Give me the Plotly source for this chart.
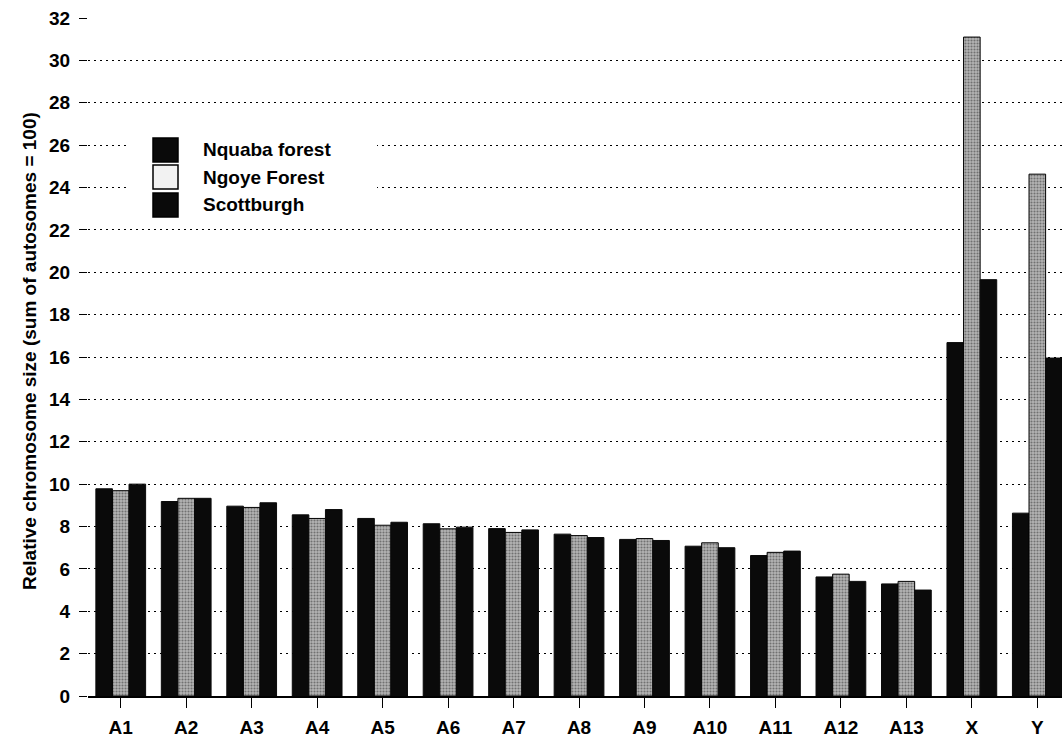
import plotly.graph_objects as go

# Relative chromosome sizes (sum of autosomes = 100)
chromosomes = ["A1", "A2", "A3", "A4", "A5", "A6", "A7", "A8", "A9", "A10",
               "A11", "A12", "A13", "X", "Y"]
series_names = ["Nquaba forest", "Ngoye Forest", "Scottburgh"]
nquaba = [9.78, 9.18, 8.96, 8.55, 8.38, 8.13, 7.90, 7.64, 7.39, 7.07,
          6.63, 5.62, 5.29, 16.68, 8.63]
ngoye = [9.69, 9.33, 8.90, 8.38, 8.06, 7.89, 7.72, 7.57, 7.43, 7.23,
         6.78, 5.75, 5.41, 31.10, 24.63]
scottburgh = [10.00, 9.33, 9.12, 8.80, 8.20, 7.97, 7.84, 7.48, 7.34, 7.00,
              6.84, 5.41, 5.00, 19.65, 15.95]
y_ticks = list(range(0, 33, 2))

W, H = 1062, 744
M_L, M_R, M_T, M_B = 88, 0, 18, 48
PW, PH = W - M_L - M_R, H - M_T - M_B

FONT = "Liberation Sans, Arial, sans-serif"
FS = 19
DARK = "#0a0a0a"
SPECKLE_BG = "#b4b4b4"
SPECKLE_FG = "#2e2e2e"


def px_x(x):
    return (x - M_L) / PW


def px_y(y):
    return (H - M_B - y) / PH


bold = dict(family=FONT, size=FS, color="black", weight="bold")

fig = go.Figure()

fig.add_trace(go.Bar(
    name=series_names[0], x=chromosomes, y=nquaba,
    marker=dict(color=DARK, line=dict(color=DARK, width=1)),
))
fig.add_trace(go.Bar(
    name=series_names[1], x=chromosomes, y=ngoye,
    marker=dict(color=SPECKLE_BG, line=dict(color="black", width=1),
                pattern=dict(shape=".", fgcolor=SPECKLE_FG, bgcolor=SPECKLE_BG,
                             size=3, solidity=0.4)),
))
fig.add_trace(go.Bar(
    name=series_names[2], x=chromosomes, y=scottburgh,
    marker=dict(color=DARK, line=dict(color=DARK, width=1)),
))

# Legend box drawn over the dotted grid
shapes = [dict(type="rect", xref="paper", yref="paper",
               x0=px_x(128), x1=px_x(377), y0=px_y(222), y1=px_y(134),
               fillcolor="white", line=dict(width=0), layer="above")]
annotations = []
swatch_fill = [DARK, "#f2f2f2", DARK]
row_y = [150, 177, 205]
for name, fill, cy in zip(series_names, swatch_fill, row_y):
    shapes.append(dict(type="rect", xref="paper", yref="paper",
                       x0=px_x(153), x1=px_x(178), y0=px_y(cy + 12), y1=px_y(cy - 12),
                       fillcolor=fill, line=dict(color="black", width=1.5), layer="above"))
    annotations.append(dict(text=name, xref="paper", yref="paper",
                            x=px_x(201), y=px_y(cy), xanchor="left", yanchor="middle",
                            showarrow=False, font=bold))

annotations.append(dict(text="Relative chromosome size (sum of autosomes = 100)",
                        xref="paper", yref="paper", x=px_x(29), y=px_y(351),
                        xanchor="center", yanchor="middle", textangle=-90,
                        showarrow=False, font=bold))

fig.update_layout(
    width=W, height=H,
    margin=dict(l=M_L, r=M_R, t=M_T, b=M_B, pad=0),
    paper_bgcolor="white", plot_bgcolor="white",
    barmode="group", bargap=0.24, bargroupgap=0,
    showlegend=False,
    shapes=shapes, annotations=annotations,
    font=dict(family=FONT, color="black"),
)

fig.update_xaxes(
    range=[-0.5, 14.377], showgrid=False, zeroline=False,
    showline=True, linecolor="black", linewidth=1.5,
    ticks="outside", ticklen=10, tickwidth=1, tickcolor="black",
    tickfont=bold, ticklabelstandoff=3,
)
fig.update_yaxes(
    range=[0, 32], tickvals=y_ticks, ticktext=[str(v) for v in y_ticks],
    showgrid=True, gridcolor="black", gridwidth=1, griddash="2px,4px",
    zeroline=False, showline=False,
    ticks="outside", ticklen=8, tickwidth=1, tickcolor="black",
    tickfont=bold, ticklabelstandoff=5,
)

fig.write_html("out.html")
